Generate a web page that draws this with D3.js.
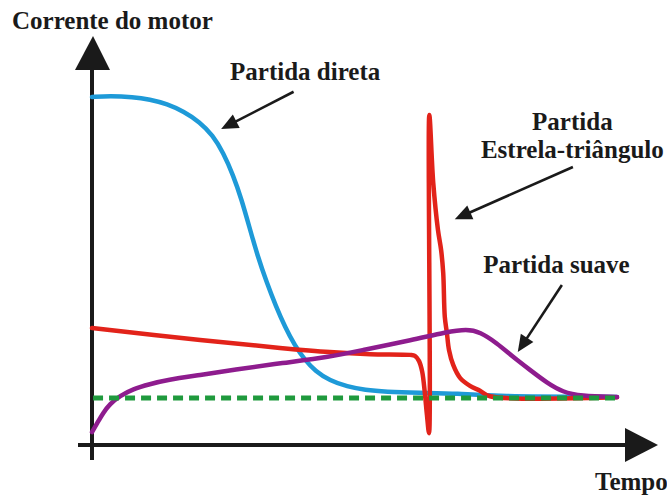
<!DOCTYPE html>
<html>
<head>
<meta charset="utf-8">
<script src="https://cdn.jsdelivr.net/npm/d3@7/dist/d3.min.js"></script>
<style>
  html, body { margin: 0; padding: 0; background: #fff; }
  svg { display: block; }
</style>
</head>
<body>
<script>
// ---- data (time in arbitrary units 0..100, current in % of direct-start peak) ----
const directTime    = [0, 3.4, 7.8, 11.0, 14.3, 17.5, 20.5, 23.0, 25.0, 26.9, 28.5, 30.0, 31.5, 33.3, 35.0, 36.8, 38.6, 40.5, 42.5, 45.3, 48.6, 52.0, 56.0, 62.0, 70.0, 76.0, 100];
const directCurrent = [100, 100.3, 100, 99.3, 98.0, 95.8, 92.8, 89.0, 84.0, 77.5, 70.5, 62.5, 54.5, 46.6, 40.0, 33.8, 28.7, 24.5, 21.3, 18.5, 16.8, 15.8, 15.3, 15.0, 14.8, 14.0, 13.8];

const starDeltaTime    = [0, 20.6, 35.8, 45.3, 53.0, 60.6, 61.5, 62.3, 62.9, 63.4, 63.8, 64.2, 64.25, 65.0, 65.9, 66.5, 66.9, 67.2, 67.6, 68.0, 68.8, 70.1, 72.0, 73.9, 75.8, 100];
const starDeltaCurrent = [33.6, 30.2, 27.9, 26.7, 26.1, 25.9, 25.6, 24.1, 21.0, 14.9, 8.6, 3.4, 94.8, 75.3, 61.8, 56.0, 49.4, 36.8, 32.2, 27.3, 23.0, 19.3, 17.0, 15.6, 14.0, 13.7];

const softTime    = [0, 1.0, 2.1, 3.4, 5.3, 7.8, 11.0, 14.3, 20.6, 26.9, 36.4, 45.3, 51.6, 61.1, 67.6, 71.4, 73.9, 77.1, 80.2, 83.4, 86.7, 89.7, 93.0, 100];
const softCurrent = [3.7, 6.3, 9.2, 11.8, 14.1, 16.1, 17.5, 18.7, 20.1, 21.6, 23.6, 25.3, 27.3, 30.2, 32.5, 33.3, 32.5, 29.3, 25.3, 21.6, 17.8, 15.2, 14.1, 13.8];

const nominalTime    = [0.2, 100];
const nominalCurrent = [13.5, 13.5];

const axisTitles = ["Corrente do motor", "Tempo"];
const labelTexts = ["Partida direta", "Partida", "Estrela-triângulo", "Partida suave"];
// label anchor points (time, current)
const labelTime    = [26.3, 91.5, 91.5, 74.5];
const labelCurrent = [104.9, 90.5, 82.5, 49.4];
// annotation arrows: start (time,current) -> tip (time,current)
const arrowFromT = [38.4, 91.6, 89.5];
const arrowFromI = [101.5, 79.9, 46.0];
const arrowToT   = [24.6, 69.1, 81.1];
const arrowToI   = [90.8, 64.9, 26.7];

// ---- drawing ----
const W = 667, H = 495;
const FONT = "'Liberation Serif', 'Times New Roman', Times, 'DejaVu Serif', serif";
const svg = d3.select("body").append("svg").attr("width", W).attr("height", H);

const x = d3.scaleLinear().domain([0, 100]).range([92, 617]);
const y = d3.scaleLinear().domain([0, 100]).range([445, 97]);

const axisColor = "#1a1a1a";

// axes
const x0 = x(0), y0 = y(0);
svg.append("line").attr("x1", x0).attr("x2", x0).attr("y1", y0 + 15).attr("y2", 70)
  .attr("stroke", axisColor).attr("stroke-width", 4);
svg.append("path").attr("d", d3.line()([[x0 - 17, 70], [x0 + 18, 70], [x0 + 1, 36]]) + "Z")
  .attr("fill", axisColor);
svg.append("line").attr("x1", x0 - 14).attr("x2", 626).attr("y1", y0).attr("y2", y0)
  .attr("stroke", axisColor).attr("stroke-width", 4);
svg.append("path").attr("d", d3.line()([[625, y0 - 17], [625, y0 + 17], [658, y0]]) + "Z")
  .attr("fill", axisColor);

const zip = (a, b) => a.map((v, i) => [v, b[i]]);
const smooth = d3.line().x(d => x(d[0])).y(d => y(d[1])).curve(d3.curveBasis);
const sharp = d3.line().x(d => x(d[0])).y(d => y(d[1])).curve(d3.curveCatmullRom.alpha(0.5));

const series = [
  { t: directTime, v: directCurrent, color: "#1e9ad8", gen: smooth },
  { t: starDeltaTime, v: starDeltaCurrent, color: "#e2231a", gen: sharp },
  { t: softTime, v: softCurrent, color: "#8e1c8e", gen: smooth }
];
series.forEach(s => {
  svg.append("path").datum(zip(s.t, s.v)).attr("d", s.gen)
    .attr("fill", "none").attr("stroke", s.color).attr("stroke-width", 4.5)
    .attr("stroke-linejoin", "round").attr("stroke-linecap", "round");
});

svg.append("path").datum(zip(nominalTime, nominalCurrent))
  .attr("d", d3.line().x(d => x(d[0])).y(d => y(d[1])))
  .attr("fill", "none").attr("stroke", "#1f9a3d").attr("stroke-width", 5)
  .attr("stroke-dasharray", "10,6");

// annotation arrows
arrowFromT.forEach((_, i) => {
  const x1 = x(arrowFromT[i]), y1 = y(arrowFromI[i]);
  const x2 = x(arrowToT[i]), y2 = y(arrowToI[i]);
  const ang = Math.atan2(y2 - y1, x2 - x1);
  const L = 17, hw = 7.5;
  const bx = x2 - L * Math.cos(ang), by = y2 - L * Math.sin(ang);
  svg.append("line").attr("x1", x1).attr("y1", y1).attr("x2", bx + 3 * Math.cos(ang)).attr("y2", by + 3 * Math.sin(ang))
    .attr("stroke", "#1a1a1a").attr("stroke-width", 2.6);
  const px = -Math.sin(ang), py = Math.cos(ang);
  svg.append("path").attr("d", d3.line()([[x2, y2], [bx + hw * px, by + hw * py], [bx - hw * px, by - hw * py]]) + "Z")
    .attr("fill", "#1a1a1a");
});

// texts
function label(tx, ty, str, anchor) {
  svg.append("text").attr("x", tx).attr("y", ty)
    .attr("font-family", FONT).attr("font-weight", "bold").attr("font-size", 25)
    .attr("fill", "#1a1a1a").attr("text-anchor", anchor).text(str);
}
label(12, 29, axisTitles[0], "start");
label(595, 490, axisTitles[1], "start");
labelTexts.forEach((t, i) => {
  label(x(labelTime[i]), y(labelCurrent[i]), t, i === 1 || i === 2 ? "middle" : "start");
});
</script>
</body>
</html>
